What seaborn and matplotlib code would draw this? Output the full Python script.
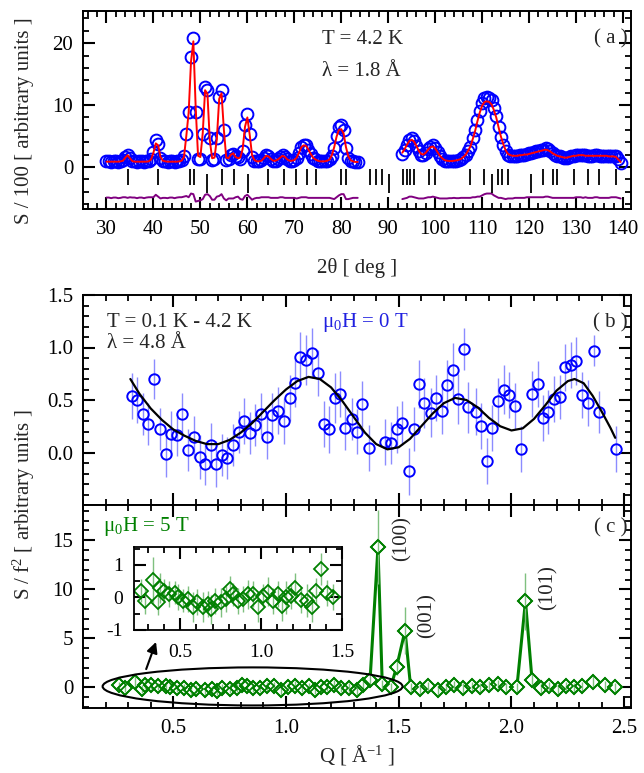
import matplotlib
matplotlib.use("Agg")
import matplotlib.pyplot as plt
from matplotlib.patches import Ellipse
from matplotlib.ticker import MultipleLocator, FixedLocator
import numpy as np
import seaborn as sns

# ---- panel (a): powder pattern, 2theta in deg ----
tt_1 = [30.0, 30.5, 31.0, 31.5, 32.0, 32.5, 33.0, 33.5, 34.0, 34.5,
        35.0, 35.5, 36.0, 36.5, 37.0, 37.5, 38.0, 38.5, 39.0, 39.5,
        40.0, 40.5, 41.0, 41.5, 42.0, 42.5, 43.0, 43.5, 44.0, 44.5,
        45.0, 45.5, 46.0, 46.5, 47.0, 47.5, 48.0, 48.5, 49.0, 49.5,
        50.0, 50.5, 51.0, 51.5, 52.0, 52.5, 53.0, 53.5, 54.0, 54.5,
        55.0, 55.5, 56.0, 56.5, 57.0, 57.5, 58.0, 58.5, 59.0, 59.5,
        60.0, 60.5, 61.0, 61.5, 62.0, 62.5, 63.0, 63.5, 64.0, 64.5,
        65.0, 65.5, 66.0, 66.5, 67.0, 67.5, 68.0, 68.5, 69.0, 69.5,
        70.0, 70.5, 71.0, 71.5, 72.0, 72.5, 73.0, 73.5, 74.0, 74.5,
        75.0, 75.5, 76.0, 76.5, 77.0, 77.5, 78.0, 78.5, 79.0, 79.5,
        80.0, 80.5, 81.0, 81.5, 82.0, 82.5, 83.0, 83.5]
obs_1 = [0.9, 0.9, 0.8, 0.9, 0.9, 0.8, 0.9, 1.1, 1.6, 1.9,
         1.5, 1.0, 0.9, 0.8, 0.9, 0.9, 0.8, 0.9, 1.0, 1.3,
         2.4, 4.3, 3.7, 1.5, 1.0, 0.9, 0.8, 0.9, 0.9, 0.8,
         0.9, 1.0, 1.1, 1.8, 5.3, 8.9, 17.7, 20.9, 8.9, 1.3,
         1.2, 5.3, 12.9, 12.4, 4.6, 1.1, 1.2, 4.7, 11.3, 12.5,
         5.9, 1.1, 1.3, 1.9, 2.1, 1.7, 1.6, 1.3, 2.6, 6.8,
         8.5, 5.3, 1.6, 1.0, 0.9, 0.9, 1.1, 1.5, 1.9, 1.8,
         1.3, 1.0, 1.0, 1.2, 1.6, 1.9, 1.6, 1.2, 1.0, 1.0,
         1.1, 1.4, 2.3, 3.3, 3.6, 3.5, 2.8, 2.1, 1.5, 1.2,
         1.0, 0.9, 0.9, 0.9, 1.0, 1.2, 1.8, 3.0, 5.0, 6.4,
         6.7, 6.0, 3.0, 1.5, 1.0, 0.9, 0.8, 0.8]
calc_1 = [0.85, 0.85, 0.85, 0.85, 0.85, 0.85, 0.9, 1.0, 1.5, 1.9,
          1.4, 0.95, 0.85, 0.85, 0.85, 0.85, 0.85, 0.85, 0.9, 1.2,
          2.3, 3.8, 3.5, 1.6, 1.0, 0.9, 0.85, 0.85, 0.85, 0.85,
          0.85, 0.9, 1.0, 1.6, 5.0, 8.8, 17.0, 20.3, 9.5, 1.8,
          1.6, 5.5, 12.4, 11.8, 4.3, 1.4, 1.5, 4.5, 11.0, 11.9,
          6.0, 1.5, 1.4, 2.0, 2.2, 1.6, 1.4, 1.5, 2.9, 6.5,
          8.0, 5.2, 1.9, 1.1, 0.9, 0.9, 1.0, 1.4, 1.8, 1.7,
          1.3, 1.0, 1.0, 1.2, 1.5, 1.8, 1.6, 1.2, 1.0, 1.0,
          1.1, 1.5, 2.3, 3.2, 3.5, 3.4, 2.8, 2.1, 1.5, 1.2,
          1.0, 0.9, 0.9, 0.9, 1.0, 1.2, 1.9, 3.2, 4.9, 6.0,
          6.1, 5.4, 3.2, 1.7, 1.1, 0.9, 0.8, 0.8]

tt_2 = [93.0, 93.5, 94.0, 94.5, 95.0, 95.5, 96.0, 96.5, 97.0, 97.5,
        98.0, 98.5, 99.0, 99.5, 100.0, 100.5, 101.0, 101.5, 102.0, 102.5,
        103.0, 103.5, 104.0, 104.5, 105.0, 105.5, 106.0, 106.5, 107.0, 107.5,
        108.0, 108.5, 109.0, 109.5, 110.0, 110.5, 111.0, 111.5, 112.0, 112.5,
        113.0, 113.5, 114.0, 114.5, 115.0, 115.5, 116.0, 116.5, 117.0, 117.5,
        118.0, 118.5, 119.0, 119.5, 120.0, 120.5, 121.0, 121.5, 122.0, 122.5,
        123.0, 123.5, 124.0, 124.5, 125.0, 125.5, 126.0, 126.5, 127.0, 127.5,
        128.0, 128.5, 129.0, 129.5, 130.0, 130.5, 131.0, 131.5, 132.0, 132.5,
        133.0, 133.5, 134.0, 134.5, 135.0, 135.5, 136.0, 136.5, 137.0, 137.5,
        138.0, 138.5, 139.0, 139.5]
obs_2 = [2.1, 2.8, 3.6, 4.4, 4.6, 4.2, 3.4, 2.5, 2.0, 1.9,
         2.3, 2.9, 3.3, 3.5, 3.1, 2.4, 1.7, 1.3, 1.0, 0.9,
         0.9, 0.9, 1.0, 1.0, 1.1, 1.3, 1.6, 2.0, 2.6, 3.3,
         4.6, 5.9, 7.6, 9.0, 10.3, 11.1, 11.3, 11.2, 10.8, 9.6,
         8.2, 6.4, 4.9, 3.6, 2.5, 2.0, 1.8, 1.7, 1.8, 1.8,
         1.9, 1.9, 2.0, 2.1, 2.2, 2.3, 2.4, 2.5, 2.6, 2.7,
         2.8, 3.0, 2.9, 2.6, 2.2, 2.0, 1.8, 1.7, 1.6, 1.5,
         1.5, 1.6, 1.7, 1.8, 1.9, 2.0, 2.0, 1.9, 1.9, 1.8,
         1.8, 1.8, 1.9, 1.9, 1.8, 1.8, 1.8, 1.8, 1.7, 1.8,
         1.8, 1.7, 1.2, 0.7]
calc_2 = [2.3, 2.9, 3.6, 4.2, 4.4, 4.1, 3.4, 2.6, 2.1, 2.0,
          2.3, 2.8, 3.2, 3.3, 3.0, 2.4, 1.8, 1.4, 1.1, 1.0,
          0.95, 0.95, 1.0, 1.05, 1.15, 1.3, 1.6, 2.0, 2.6, 3.3,
          4.5, 5.8, 7.4, 8.8, 9.9, 10.5, 10.6, 10.5, 10.1, 9.2,
          8.0, 6.4, 4.9, 3.7, 2.7, 2.1, 1.9, 1.8, 1.8, 1.8,
          1.9, 1.9, 2.0, 2.0, 2.1, 2.2, 2.3, 2.4, 2.5, 2.6,
          2.7, 2.8, 2.7, 2.5, 2.2, 2.0, 1.8, 1.7, 1.6, 1.5,
          1.5, 1.6, 1.7, 1.8, 1.8, 1.9, 1.9, 1.9, 1.8, 1.8,
          1.8, 1.8, 1.8, 1.8, 1.8, 1.8, 1.8, 1.8, 1.7, 1.7,
          1.7, 1.6, 1.2, 0.8]
diff_offset = -5.0

bragg_main = [34.5, 40.9, 47.7, 48.6, 54.7, 57.2, 64.5, 67.7, 70.3, 72.7,
              74.6, 79.9, 81.1, 86.2, 87.3, 88.6, 93.2, 93.9, 94.6, 95.5,
              98.6, 100.0, 107.5, 110.5, 113.3, 114.3, 115.4, 122.9, 125.1,
              125.9, 129.5, 132.6, 134.8, 138.5]
bragg_second = [51.5, 60.1, 90.1, 112.2, 120.3]

# ---- panel (b): mu0H = 0 T ----
q_b = [0.316, 0.339, 0.365, 0.390, 0.417, 0.440, 0.466, 0.490, 0.516, 0.541,
       0.565, 0.593, 0.617, 0.642, 0.668, 0.691, 0.716, 0.739, 0.765, 0.790,
       0.816, 0.839, 0.864, 0.890, 0.916, 0.939, 0.964, 0.990, 1.016, 1.041,
       1.064, 1.091, 1.116, 1.141, 1.168, 1.190, 1.216, 1.239, 1.264, 1.291,
       1.313, 1.339, 1.368, 1.438, 1.464, 1.491, 1.516, 1.546, 1.568, 1.590,
       1.612, 1.642, 1.664, 1.690, 1.713, 1.741, 1.765, 1.790, 1.808, 1.842,
       1.867, 1.891, 1.913, 1.941, 1.965, 1.990, 2.016, 2.042, 2.090, 2.116,
       2.139, 2.164, 2.188, 2.216, 2.238, 2.262, 2.287, 2.312, 2.339, 2.364,
       2.386, 2.464]
s_b = [0.54, 0.50, 0.37, 0.27, 0.70, 0.22, -0.01, 0.18, 0.17, 0.37,
       0.02, 0.15, -0.04, -0.11, 0.07, -0.11, -0.02, -0.05, 0.07, 0.20,
       0.30, 0.19, 0.26, 0.37, 0.15, 0.36, 0.40, 0.30, 0.52, 0.66,
       0.91, 0.88, 0.95, 0.76, 0.27, 0.22, 0.52, 0.56, 0.23, 0.32,
       0.20, 0.46, 0.04, 0.10, 0.09, 0.22, 0.28, -0.18, 0.22, 0.65,
       0.47, 0.38, 0.52, 0.40, 0.64, 0.79, 0.51, 0.99, 0.43, 0.39,
       0.25, -0.08, 0.23, 0.49, 0.60, 0.55, 0.44, 0.03, 0.56, 0.65,
       0.33, 0.39, 0.51, 0.53, 0.81, 0.83, 0.87, 0.55, 0.47, 0.97,
       0.39, 0.03]
err_b = [0.22, 0.22, 0.20, 0.20, 0.19, 0.20, 0.22, 0.22, 0.20, 0.20,
         0.20, 0.20, 0.21, 0.20, 0.21, 0.22, 0.20, 0.20, 0.20, 0.20,
         0.22, 0.20, 0.20, 0.20, 0.21, 0.21, 0.22, 0.22, 0.22, 0.23,
         0.24, 0.24, 0.24, 0.22, 0.22, 0.22, 0.24, 0.22, 0.21, 0.20,
         0.21, 0.22, 0.22, 0.22, 0.20, 0.22, 0.21, 0.22, 0.21, 0.23,
         0.24, 0.23, 0.22, 0.22, 0.24, 0.25, 0.24, 0.20, 0.24, 0.22,
         0.22, 0.22, 0.22, 0.22, 0.23, 0.22, 0.22, 0.22, 0.22, 0.22,
         0.22, 0.21, 0.22, 0.21, 0.22, 0.22, 0.23, 0.22, 0.22, 0.15,
         0.20, 0.22]
q_fit = [0.31, 0.35, 0.40, 0.45, 0.50, 0.55, 0.60, 0.65, 0.70, 0.75,
         0.80, 0.85, 0.90, 0.95, 1.00, 1.05, 1.10, 1.15, 1.20, 1.25,
         1.30, 1.35, 1.40, 1.45, 1.50, 1.55, 1.60, 1.65, 1.70, 1.75,
         1.80, 1.85, 1.90, 1.95, 2.00, 2.05, 2.10, 2.15, 2.20, 2.25,
         2.28, 2.32, 2.36, 2.40, 2.44, 2.46]
s_fit = [0.70, 0.56, 0.42, 0.31, 0.22, 0.16, 0.11, 0.08, 0.08, 0.12,
         0.19, 0.28, 0.39, 0.50, 0.60, 0.68, 0.72, 0.70, 0.62, 0.49,
         0.34, 0.19, 0.08, 0.03, 0.05, 0.13, 0.25, 0.37, 0.47, 0.52,
         0.50, 0.43, 0.33, 0.25, 0.21, 0.23, 0.32, 0.45, 0.59, 0.68,
         0.70, 0.66, 0.54, 0.39, 0.23, 0.14]

# ---- panel (c): mu0H = 5 T ----
q_c = [0.260, 0.286, 0.331, 0.362, 0.377, 0.403, 0.434, 0.466, 0.485, 0.516,
       0.547, 0.578, 0.603, 0.640, 0.670, 0.692, 0.718, 0.753, 0.784, 0.805,
       0.829, 0.855, 0.887, 0.917, 0.948, 0.979, 1.009, 1.041, 1.071, 1.102,
       1.129, 1.157, 1.184, 1.211, 1.246, 1.281, 1.314, 1.342, 1.373, 1.408,
       1.427, 1.464, 1.491, 1.528, 1.553, 1.593, 1.630, 1.672, 1.709, 1.746,
       1.783, 1.823, 1.861, 1.899, 1.939, 1.976, 2.024, 2.062, 2.091, 2.131,
       2.168, 2.205, 2.242, 2.279, 2.312, 2.361, 2.413, 2.460]
s_c = [0.21, -0.10, 0.54, -0.15, 0.29, 0.21, 0.10, 0.15, 0.00, -0.10,
       -0.05, -0.29, -0.15, -0.29, -0.21, -0.36, -0.10, -0.15, -0.05, 0.26,
       0.10, -0.10, -0.05, 0.10, 0.12, -0.29, 0.05, 0.18, -0.10, 0.10,
       -0.26, 0.00, 0.05, 0.29, -0.08, -0.10, -0.29, 0.21, 0.80, 14.3,
       0.30, 0.00, 2.10, 5.80, 0.00, -0.20, 0.10, -0.30, 0.00, 0.20,
       -0.10, 0.10, 0.00, 0.20, 0.30, 0.00, 0.00, 8.80, 0.80, -0.10,
       0.10, -0.20, 0.10, 0.00, 0.10, 0.60, 0.20, 0.00]
err_c = [0.35, 0.40, 0.70, 0.40, 0.45, 0.35, 0.40, 0.35, 0.40, 0.35,
         0.40, 0.45, 0.40, 0.45, 0.40, 0.45, 0.40, 0.45, 0.40, 0.40,
         0.35, 0.40, 0.40, 0.45, 0.40, 0.45, 0.35, 0.45, 0.40, 0.40,
         0.45, 0.50, 0.40, 0.45, 0.40, 0.50, 0.45, 0.40, 0.50, 3.80,
         0.50, 0.50, 0.80, 2.40, 0.50, 0.50, 0.50, 0.50, 0.50, 0.50,
         0.50, 0.50, 0.50, 0.50, 0.50, 0.50, 0.50, 2.90, 0.60, 0.50,
         0.50, 0.50, 0.50, 0.50, 0.50, 0.60, 0.50, 0.50]

q_in = [0.260, 0.286, 0.331, 0.362, 0.377, 0.403, 0.434, 0.466, 0.485, 0.516,
        0.547, 0.578, 0.603, 0.640, 0.670, 0.692, 0.718, 0.753, 0.784, 0.805,
        0.829, 0.855, 0.887, 0.917, 0.948, 0.979, 1.009, 1.041, 1.071, 1.102,
        1.129, 1.157, 1.184, 1.211, 1.246, 1.281, 1.314, 1.342, 1.373, 1.407,
        1.444]
s_in = [0.21, -0.10, 0.54, -0.15, 0.29, 0.21, 0.10, 0.15, 0.00, -0.10,
        -0.05, -0.29, -0.15, -0.29, -0.21, -0.36, -0.10, -0.15, -0.05, 0.26,
        0.10, -0.10, -0.05, 0.10, 0.12, -0.29, 0.05, 0.18, -0.10, 0.10,
        -0.26, 0.00, 0.05, 0.29, -0.08, -0.10, -0.29, 0.21, 0.87, 0.15,
        0.00]
err_in = [0.35, 0.40, 0.70, 0.40, 0.45, 0.35, 0.40, 0.35, 0.40, 0.35,
          0.40, 0.45, 0.40, 0.45, 0.40, 0.45, 0.40, 0.45, 0.40, 0.40,
          0.35, 0.40, 0.40, 0.45, 0.40, 0.45, 0.35, 0.45, 0.40, 0.40,
          0.45, 0.50, 0.40, 0.45, 0.40, 0.50, 0.45, 0.40, 0.50, 0.40,
          0.40]

peak_labels = ["(100)", "(001)", "(101)"]
peak_label_q = [1.516, 1.627, 2.161]
peak_label_s = [15.2, 7.3, 10.2]

sns.set_theme(style="ticks")
plt.rcParams.update({
    "font.family": ["Liberation Serif", "DejaVu Serif"],
    "mathtext.fontset": "custom",
    "mathtext.rm": "Liberation Serif",
    "mathtext.it": "Liberation Serif:italic",
    "mathtext.default": "regular",
    "axes.unicode_minus": False,
    "axes.linewidth": 1.4,
    "axes.edgecolor": "black",
    "xtick.color": "black",
    "ytick.color": "black",
    "xtick.top": True,
    "ytick.right": True,
    "xtick.direction": "in",
    "ytick.direction": "in",
})

W, H = 644, 773


def box(left, top, right, bottom):
    return [left / W, 1 - bottom / H, (right - left) / W, (bottom - top) / H]


def style(ax, size=15, xpad=8, ypad=7):
    ax.tick_params(which="both", direction="in", top=True, right=True,
                   bottom=True, left=True, labelsize=size)
    ax.tick_params(which="major", length=8.5, width=1.5)
    ax.tick_params(which="minor", length=4.5, width=1.3)
    ax.tick_params(axis="x", pad=xpad)
    ax.tick_params(axis="y", pad=ypad)
    ax.set_xlabel("")
    ax.set_ylabel("")


def marks(ax, x, y, **kw):
    sns.lineplot(x=x, y=y, ax=ax, estimator=None, sort=False,
                 linestyle="none", **kw)


fig = plt.figure(figsize=(W / 100, H / 100), dpi=100)
ax_a = fig.add_axes(box(83, 11, 631, 209))
ax_b = fig.add_axes(box(83, 295, 631, 505))
ax_c = fig.add_axes(box(83, 505, 631, 708))
ax_in = fig.add_axes(box(134, 547, 342, 630))

# (a)
for tt, obs, calc in [(tt_1, obs_1, calc_1), (tt_2, obs_2, calc_2)]:
    marks(ax_a, tt, obs, marker="o", markersize=8.5, markerfacecolor="none",
          markeredgecolor="blue", markeredgewidth=1.4)
    sns.lineplot(x=tt, y=calc, ax=ax_a, estimator=None, sort=False,
                 color="red", linewidth=1.4)
    diff = np.array(obs) - np.array(calc) + diff_offset
    sns.lineplot(x=tt, y=diff, ax=ax_a, estimator=None, sort=False,
                 color="purple", linewidth=1.4)
ax_a.vlines(bragg_main, -2.9, -0.4, color="black", linewidth=1.3)
ax_a.vlines(bragg_second, -4.2, -1.2, color="black", linewidth=1.3)
ax_a.set_xlim(25, 141.7)
ax_a.set_ylim(-6.8, 25.2)
ax_a.xaxis.set_major_locator(MultipleLocator(10))
ax_a.xaxis.set_minor_locator(MultipleLocator(2))
ax_a.yaxis.set_major_locator(MultipleLocator(10))
ax_a.yaxis.set_minor_locator(MultipleLocator(2))
style(ax_a)
ax_a.text(0.436, 0.854, "T = 4.2 K", transform=ax_a.transAxes, fontsize=15,
          va="center", ha="left")
ax_a.text(0.436, 0.692, "λ = 1.8 Å", transform=ax_a.transAxes, fontsize=15,
          va="center", ha="left")
ax_a.text(0.993, 0.859, "( a )", transform=ax_a.transAxes, fontsize=15,
          va="center", ha="right")

# (b)
qb, sb, eb = np.array(q_b), np.array(s_b), np.array(err_b)
ax_b.vlines(qb, sb - eb, sb + eb, color="#8c8cff", linewidth=1.0, zorder=1)
marks(ax_b, q_b, s_b, marker="o", markersize=7.5, markerfacecolor="none",
      markeredgecolor="blue", markeredgewidth=1.4, zorder=2)
sns.lineplot(x=q_fit, y=s_fit, ax=ax_b, estimator=None, sort=False,
             color="black", linewidth=1.6, zorder=3)
ax_b.set_xlim(0.1, 2.53)
ax_b.set_ylim(-0.5, 1.5)
ax_b.xaxis.set_major_locator(MultipleLocator(0.5))
ax_b.xaxis.set_minor_locator(MultipleLocator(0.1))
ax_b.yaxis.set_major_locator(FixedLocator([0.0, 0.5, 1.0, 1.5]))
ax_b.yaxis.set_minor_locator(MultipleLocator(0.1))
ax_b.yaxis.set_major_formatter("{x:.1f}")
style(ax_b)
ax_b.tick_params(labelbottom=False)
ax_b.text(0.044, 0.871, "T = 0.1 K - 4.2 K", transform=ax_b.transAxes,
          fontsize=15, va="center", ha="left")
ax_b.text(0.044, 0.771, "λ = 4.8 Å", transform=ax_b.transAxes,
          fontsize=15, va="center", ha="left")
ax_b.text(0.436, 0.867, "μ$_0$H = 0 T", transform=ax_b.transAxes,
          fontsize=15, va="center", ha="left", color="#2020e0")
ax_b.text(0.993, 0.867, "( b )", transform=ax_b.transAxes, fontsize=15,
          va="center", ha="right")

# (c)
qc, sc, ec = np.array(q_c), np.array(s_c), np.array(err_c)
sns.lineplot(x=q_c, y=s_c, ax=ax_c, estimator=None, sort=False,
             color="green", linewidth=2.2, zorder=2)
marks(ax_c, q_c, s_c, marker="D", markersize=7, markerfacecolor="white",
      markeredgecolor="green", markeredgewidth=1.3, zorder=3)
ax_c.vlines(qc, sc - ec, sc + ec, color="#7fc07f", linewidth=1.0, zorder=4)
marks(ax_c, q_c, s_c, marker="D", markersize=7, markerfacecolor="none",
      markeredgecolor="green", markeredgewidth=1.3, zorder=5)
ax_c.add_patch(Ellipse((0.852, 0.1), width=1.33, height=3.88, fill=False,
                       edgecolor="black", linewidth=1.5, zorder=6))
ax_c.annotate("", xy=(0.428, 4.9), xytext=(0.376, 1.6),
              arrowprops=dict(arrowstyle="-|>", color="black", lw=1.5,
                              mutation_scale=16), zorder=6)
for lab, xq, ys in zip(peak_labels, peak_label_q, peak_label_s):
    ax_c.text(xq, ys, lab, rotation=90, fontsize=15, ha="center",
              va="center")
ax_c.set_xlim(0.1, 2.53)
ax_c.set_ylim(-2.1, 18.6)
ax_c.xaxis.set_major_locator(MultipleLocator(0.5))
ax_c.xaxis.set_minor_locator(MultipleLocator(0.1))
ax_c.xaxis.set_major_formatter("{x:.1f}")
ax_c.yaxis.set_major_locator(FixedLocator([0, 5, 10, 15]))
ax_c.yaxis.set_minor_locator(MultipleLocator(1))
style(ax_c)
ax_c.text(0.036, 0.892, "μ$_0$H = 5 T", transform=ax_c.transAxes,
          fontsize=15, va="center", ha="left", color="green")
ax_c.text(0.993, 0.887, "( c )", transform=ax_c.transAxes, fontsize=15,
          va="center", ha="right")

# inset
ax_in.set_facecolor("white")
qi, si, ei = np.array(q_in), np.array(s_in), np.array(err_in)
ax_in.vlines(qi, si - ei, si + ei, color="#7fc07f", linewidth=1.0)
marks(ax_in, q_in, s_in, marker="D", markersize=7, markerfacecolor="none",
      markeredgecolor="green", markeredgewidth=1.3)
ax_in.set_xlim(0.215, 1.5)
ax_in.set_ylim(-1.0, 1.55)
ax_in.xaxis.set_major_locator(MultipleLocator(0.5))
ax_in.xaxis.set_minor_locator(MultipleLocator(0.1))
ax_in.xaxis.set_major_formatter("{x:.1f}")
ax_in.yaxis.set_major_locator(FixedLocator([-1, 0, 1]))
ax_in.yaxis.set_minor_locator(MultipleLocator(0.5))
style(ax_in, size=14, xpad=10, ypad=8)
for sp in ax_in.spines.values():
    sp.set_linewidth(1.3)

fig.text(25 / W, 1 - 121 / H, "S / 100 [ arbitrary units ]", rotation=90,
         fontsize=15, ha="center", va="center")
fig.text(24 / W, 1 - 505 / H, "S / f$^2$ [ arbitrary units ]", rotation=90,
         fontsize=15, ha="center", va="center")
fig.text(357 / W, 1 - 268 / H, "2θ [ deg ]", fontsize=15, ha="center",
         va="center")
fig.text(357 / W, 1 - 755 / H, "Q [ Å$^{-1}$ ]", fontsize=15, ha="center",
         va="center")

fig.savefig("out.png", dpi=100)
